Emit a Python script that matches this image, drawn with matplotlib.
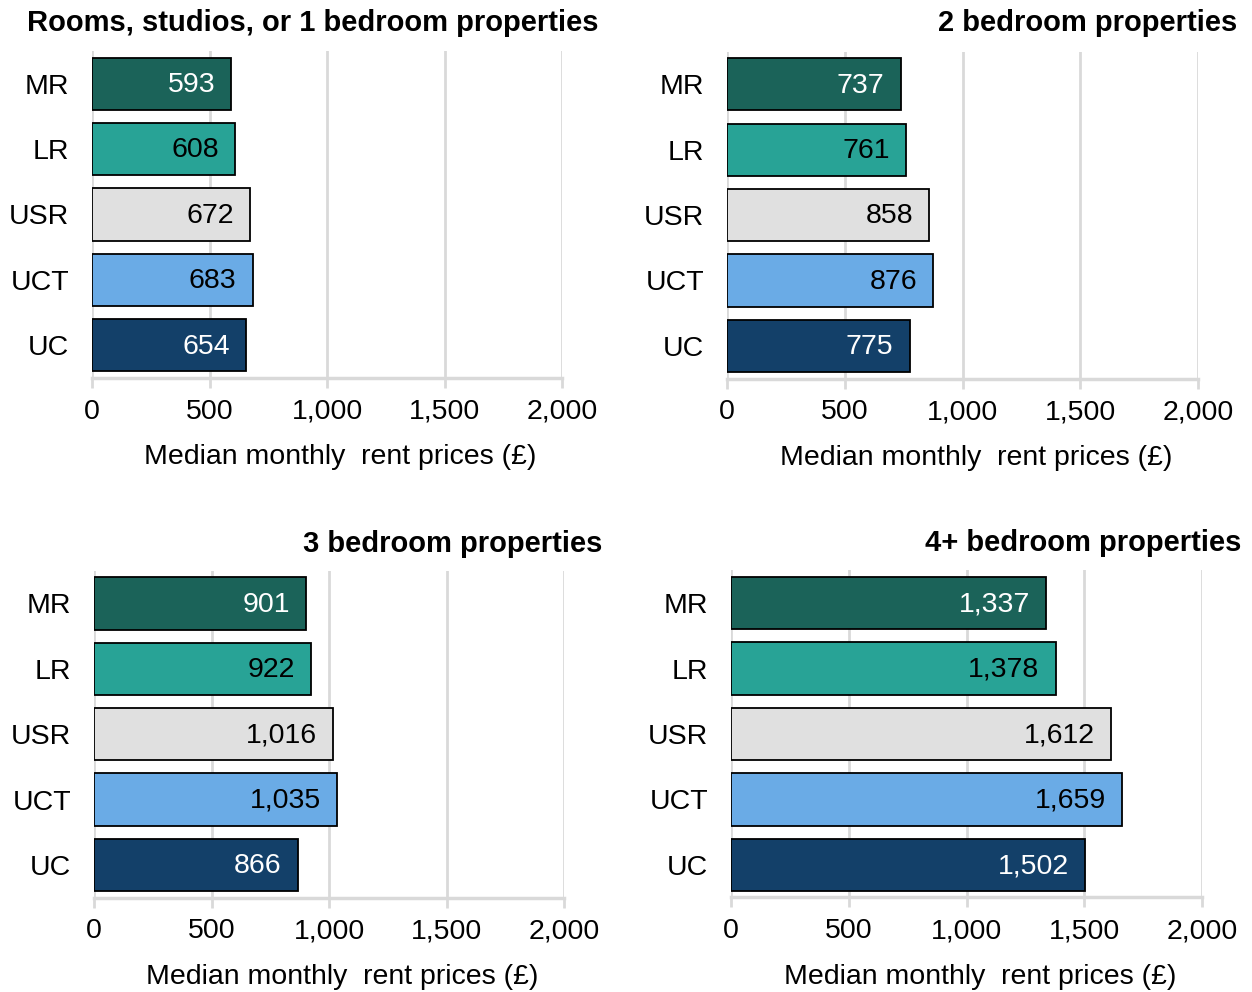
import matplotlib
matplotlib.use("Agg")
import matplotlib.pyplot as plt

plt.rcParams["font.family"] = ["Liberation Sans", "DejaVu Sans"]

categories = ["MR", "LR", "USR", "UCT", "UC"]
titles = [
    "Rooms, studios, or 1 bedroom properties",
    "2 bedroom properties",
    "3 bedroom properties",
    "4+ bedroom properties",
]
rent_1bed = [593, 608, 672, 683, 654]
rent_2bed = [737, 761, 858, 876, 775]
rent_3bed = [901, 922, 1016, 1035, 866]
rent_4bed = [1337, 1378, 1612, 1659, 1502]
x_ticks = [0, 500, 1000, 1500, 2000]
x_label = "Median monthly  rent prices (£)"

bar_colors = ["#1B6359", "#28A396", "#E0E0E0", "#6AABE6", "#134069"]
text_colors = ["white", "black", "black", "black", "white"]
grid_color = "#D9D9D9"

fig = plt.figure(figsize=(12.52, 9.92), dpi=100)

# panel boxes in figure fractions: left, bottom, width, height
boxes = [
    (0.0735, 0.6190, 0.3754, 0.3296),
    (0.5807, 0.6184, 0.3762, 0.3296),
    (0.0751, 0.0951, 0.3754, 0.3296),
    (0.5839, 0.0953, 0.3762, 0.3296),
]
title_pos = [(1.077, 1.086), (1.083, 1.086), (1.081, 1.083), (1.083, 1.083)]
series = [rent_1bed, rent_2bed, rent_3bed, rent_4bed]

for box, values, title, (tx, ty) in zip(boxes, series, titles, title_pos):
    ax = fig.add_axes(box)
    ypos = list(range(len(categories)))
    ax.barh(ypos, values, height=0.8, color=bar_colors,
            edgecolor="black", linewidth=1.3, zorder=3)
    for y, v, tc in zip(ypos, values, text_colors):
        ax.text(v - 68, y + 0.02, f"{v:,}", ha="right", va="center",
                color=tc, fontsize=20.5, zorder=4)
    ax.set_xlim(0, 2000)
    ax.set_ylim(4.5, -0.5)
    ax.set_yticks(ypos)
    ax.set_yticklabels(categories, fontsize=20.5)
    ax.tick_params(axis="y", length=0, pad=16.5)
    ax.set_xticks(x_ticks)
    ax.set_xticklabels([f"{t:,}" for t in x_ticks], fontsize=20.5)
    ax.tick_params(axis="x", length=7, width=2, color=grid_color, pad=8)
    ax.grid(axis="x", color=grid_color, linewidth=2, zorder=0)
    ax.set_axisbelow(True)
    for side in ["top", "right", "left"]:
        ax.spines[side].set_visible(False)
    ax.spines["bottom"].set_color(grid_color)
    ax.spines["bottom"].set_linewidth(2.5)
    ax.set_xlabel(x_label, fontsize=20.5)
    ax.xaxis.set_label_coords(0.528, -0.203)
    ax.text(tx, ty, title, transform=ax.transAxes, ha="right",
            va="center", fontsize=21, fontweight="bold")

fig.savefig("out.png", dpi=100)
